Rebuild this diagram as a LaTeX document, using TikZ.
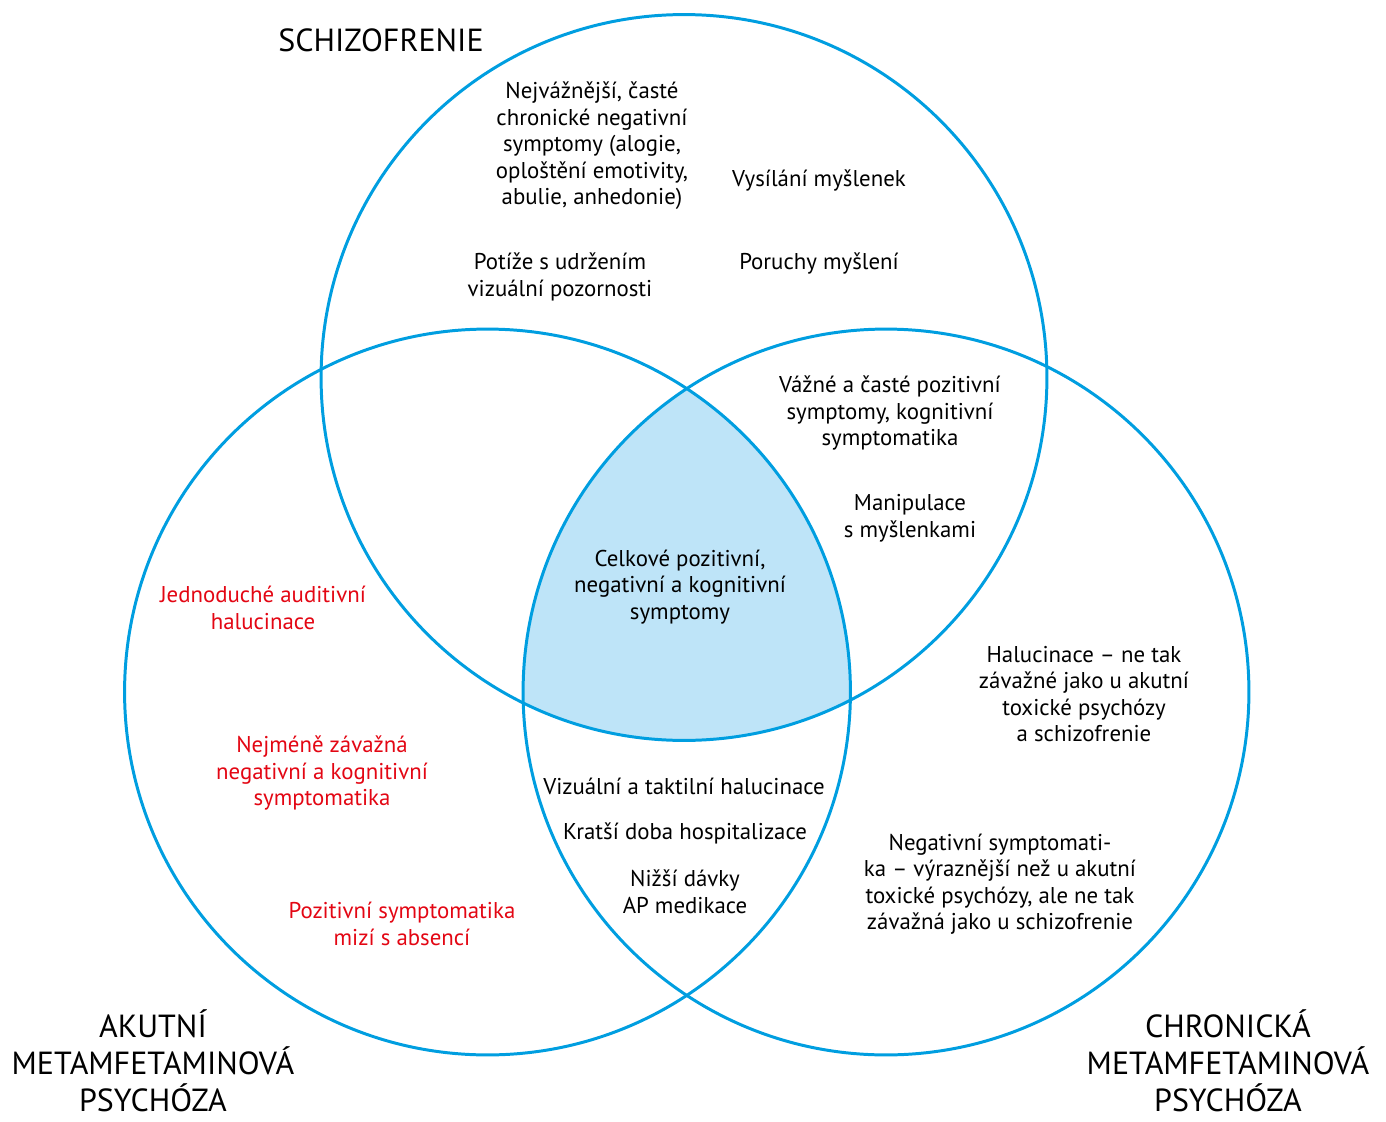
\documentclass[tikz,border=0pt]{standalone}
\usepackage{fontspec}
\setmainfont{PT Sans}
\usetikzlibrary{positioning}
\definecolor{vennblue}{RGB}{0,158,224}
\definecolor{vennfill}{RGB}{190,228,248}
\definecolor{vennred}{RGB}{227,6,19}
\tikzstyle{set}=[circle,draw=vennblue,line width=1.7pt,minimum size=14.52cm,inner sep=0pt,outer sep=0pt]
\tikzstyle{note}=[align=center,font=\fontsize{13}{15.1}\selectfont,inner sep=0pt]
\tikzstyle{rednote}=[note,text=vennred]
\tikzstyle{setname}=[align=center,font=\fontsize{18.2}{21.2}\selectfont,inner sep=0pt]

\begin{document}
\begin{tikzpicture}[x=0.02cm,y=-0.02cm]

  \def\r{7.26cm};
  \useasboundingbox (0,0) rectangle (1386,1122);

  \coordinate (cs) at (684,377.5);
  \coordinate (ca) at (487.5,692);
  \coordinate (cc) at (886,692);

  % common part of all three
  \begin{scope}
    \clip (cs) circle[radius=\r];
    \clip (ca) circle[radius=\r];
    \fill[vennfill] (cc) circle[radius=\r];
  \end{scope}

  \node[set] (schiz) at (cs) {};
  \node[set] (acute) at (ca) {};
  \node[set] (chron) at (cc) {};

  \node[setname] (tschiz) at (381,40) {SCHIZOFRENIE};
  \node[setname] (tacute) at (153,1061) {AKUTNÍ\\METAMFETAMINOVÁ\\PSYCHÓZA};
  \node[setname] (tchron) at (1228,1061) {CHRONICKÁ\\METAMFETAMINOVÁ\\PSYCHÓZA};

  % schizofrenie only
  \node[note] (s1) at (592,146) {Nejvážnější, časté\\chronické negativní\\symptomy (alogie,\\oploštění emotivity,\\abulie, anhedonie)};
  \node[note] (s2) at (819,180) {Vysílání myšlenek};
  \node[note] (s3) at (560,277) {Potíže s udržením\\vizuální pozornosti};
  \node[note] (s4) at (819,263) {Poruchy myšlení};

  % schizofrenie + chronicka
  \node[note] (sc1) at (890,413) {Vážné a časté pozitivní\\symptomy, kognitivní\\symptomatika};
  \node[note] (sc2) at (910,518) {Manipulace\\s myšlenkami};

  % all three
  \node[note] (all) at (680,587) {Celkové pozitivní,\\negativní a kognitivní\\symptomy};

  % akutni only
  \foreach \name/\x/\y/\txt in {a1/263/608/{Jednoduché auditivní\\halucinace},
      a2/322/773/{Nejméně závažná\\negativní a kognitivní\\symptomatika},
      a3/402/924/{Pozitivní symptomatika\\mizí s absencí}}
    \node[rednote] (\name) at (\x,\y) {\txt};

  % akutni + chronicka
  \node[note] (ac1) at (684,786) {Vizuální a taktilní halucinace};
  \node[note] (ac2) at (685,833) {Kratší doba hospitalizace};
  \node[note] (ac3) at (685,892) {Nižší dávky\\AP medikace};

  % chronicka only
  \node[note] (c1) at (1084,694) {Halucinace -- ne tak\\závažné jako u akutní\\toxické psychózy\\a schizofrenie};
  \node[note] (c2) at (1000,884) {Negativní symptomati-\\ka -- výraznější než u akutní\\toxické psychózy, ale ne tak\\závažná jako u schizofrenie};

\end{tikzpicture}
\end{document}
